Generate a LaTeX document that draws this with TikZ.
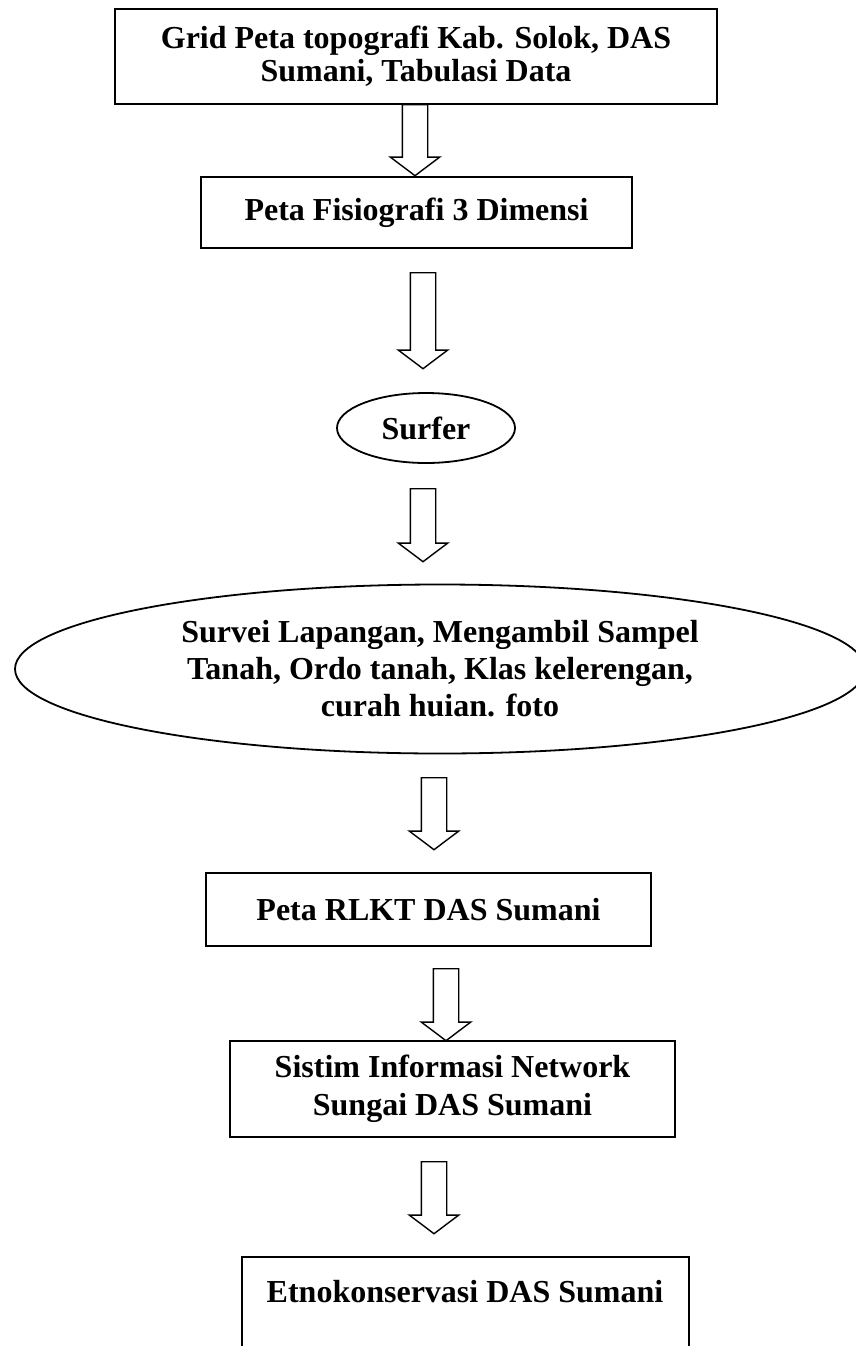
\documentclass[tikz,border=0pt]{standalone}
\usepackage{fontspec}
\setmainfont{Liberation Serif}
\usetikzlibrary{shapes.geometric,shapes.arrows}
\begin{document}
\begin{tikzpicture}[x=1pt,y=1pt,
  box/.style={draw, line width=1.8pt, align=center, inner sep=0pt, font=\fontsize{32}{36}\selectfont\bfseries},
  oval/.style={draw, ellipse, line width=1.8pt, align=center, inner sep=0pt, font=\fontsize{32}{37}\selectfont\bfseries},
  barrow/.style={draw, single arrow, line width=1.4pt, rotate=-90, inner xsep=0pt, inner ysep=12pt,
     single arrow head extend=12pt, single arrow tip angle=106, anchor=tail}
]
\clip (0,0) rectangle (856,-1346);
\useasboundingbox (0,0) rectangle (856,-1346);

\node[box, minimum width=602, minimum height=95, font=\fontsize{32}{33}\selectfont\bfseries] (b1) at (416,-56.5)
  {Grid Peta topografi Kab. Solok, DAS\\Sumani, Tabulasi Data};
\node[box, minimum width=431, minimum height=71] (b2) at (416.5,-212.5) {Peta Fisiografi 3 Dimensi};
\node[oval, minimum width=178, minimum height=70] (surf) at (426,-428) {Surfer};
\node[oval, minimum width=850, minimum height=169] (big) at (440,-669)
  {Survei Lapangan, Mengambil Sampel\\Tanah, Ordo tanah, Klas kelerengan,\\curah huian. foto};
\node[box, minimum width=445, minimum height=73] (b3) at (428.5,-909.5) {Peta RLKT DAS Sumani};
\node[box, minimum width=445, minimum height=96, font=\fontsize{32}{38}\selectfont\bfseries] (b4) at (452.5,-1089) {Sistim Informasi Network\\Sungai DAS Sumani};
\draw[line width=1.8pt] (242,-1400) |- (689,-1257) -- (689,-1400);
\node[font=\fontsize{32}{36}\selectfont\bfseries] (b5) at (465,-1292) {Etnokonservasi DAS Sumani};

\node[barrow, minimum height=71] (a1) at (415,-104) {};
\node[barrow, minimum height=96] (a2) at (423,-272) {};
\node[barrow, minimum height=73] (a3) at (423,-488) {};
\node[barrow, minimum height=72] (a4) at (434,-777) {};
\node[barrow, minimum height=72] (a5) at (446,-968) {};
\node[barrow, minimum height=72] (a6) at (434,-1161) {};
\end{tikzpicture}
\end{document}
